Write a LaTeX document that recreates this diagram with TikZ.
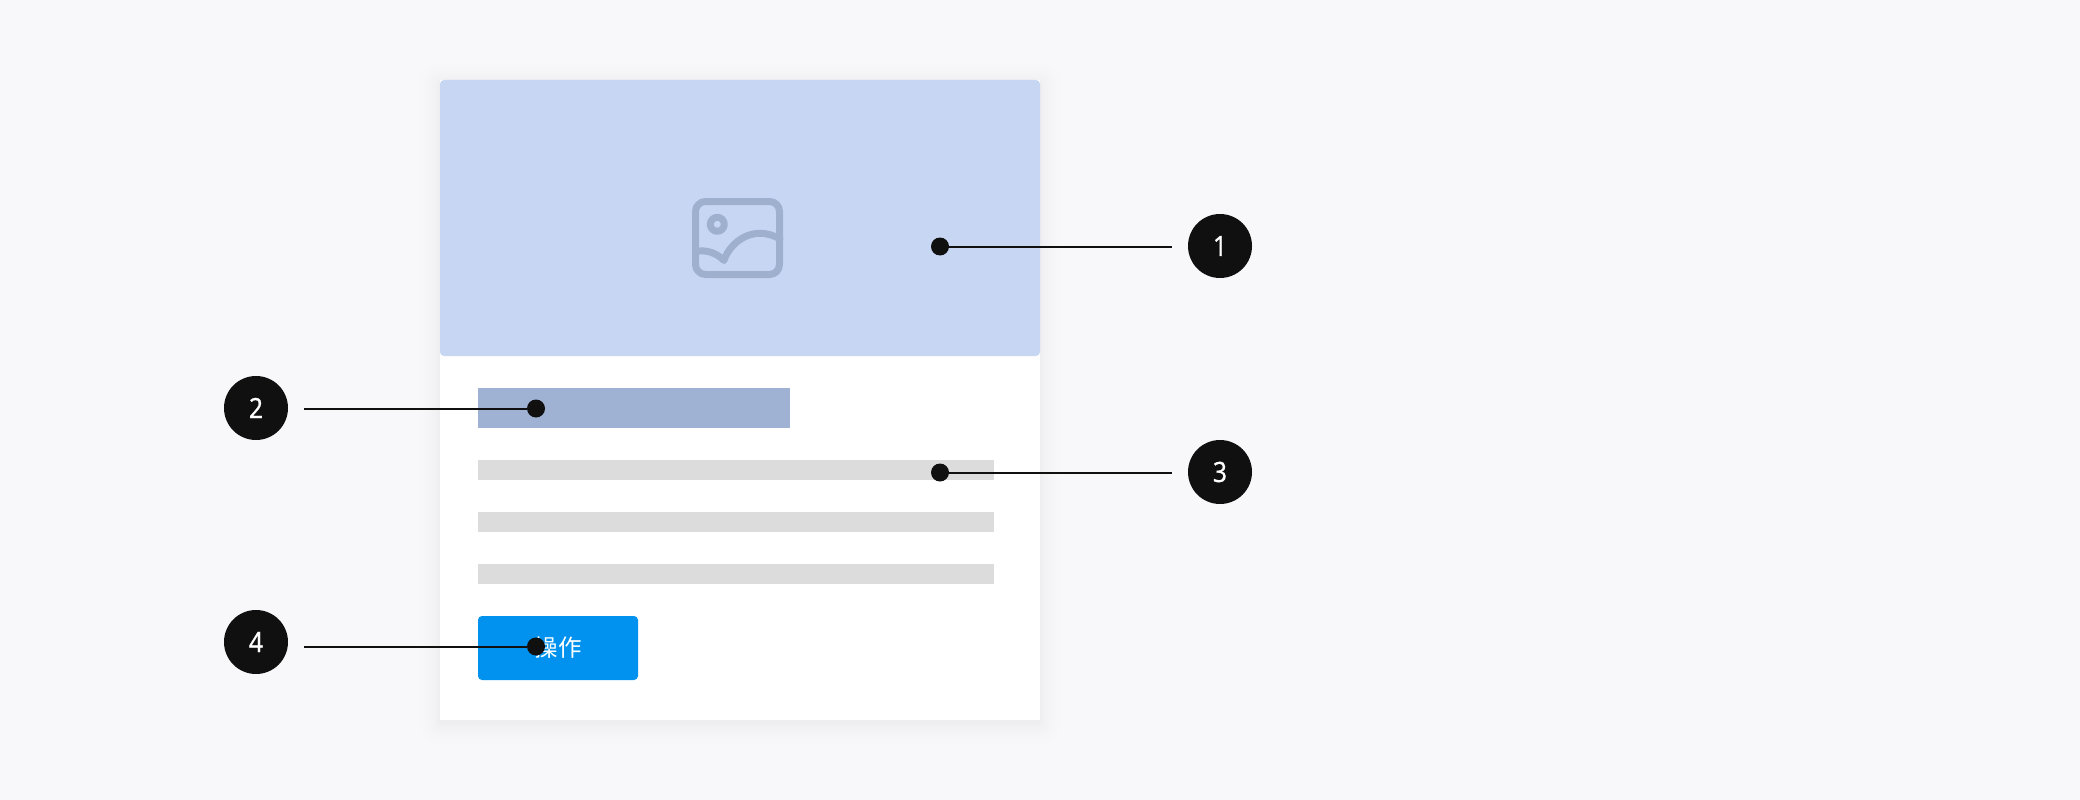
\documentclass[tikz,border=0pt]{standalone}
\usepackage{fontspec}
\setmainfont{Noto Sans}[FakeStretch=0.88,FakeBold=0.6]
\newfontfamily\cjkfont{Noto Sans CJK SC}
\definecolor{pagebg}{HTML}{F8F8FA}
\definecolor{headerblue}{HTML}{C7D6F3}
\definecolor{iconblue}{HTML}{9FB0CF}
\definecolor{barblue}{HTML}{9FB2D3}
\definecolor{linegrey}{HTML}{DCDCDC}
\definecolor{btnblue}{HTML}{0092EE}
\definecolor{inkdark}{HTML}{101010}
\tikzset{
  x=1pt,y=-1pt,
  block/.style={inner sep=0pt,outer sep=0pt,anchor=north west,draw=none},
  textline/.style={block,fill=linegrey,minimum width=516pt,minimum height=20pt},
  badge/.style={circle,fill=inkdark,text=white,minimum size=64pt,inner sep=0pt,outer sep=0pt,font=\fontsize{28}{28}\selectfont},
  pin/.style={circle,fill=inkdark,minimum size=18pt,inner sep=0pt,outer sep=0pt},
  leader/.style={draw=inkdark,line width=2pt},
  iconline/.style={draw=iconblue,line width=7pt,line cap=round,line join=round},
}
\begin{document}
\begin{tikzpicture}
\fill[pagebg] (0,0) rectangle (2080,800);
\useasboundingbox (0,0) rectangle (2080,800);
% card shadow
\foreach \s in {1,2,3,4,6,8,10,13,16,20}{
  \fill[black,opacity=0.005,rounded corners=\s pt] (440-\s,80-\s+3) rectangle (1040+\s,720+\s+3);
}
\node[block,fill=white,minimum width=600pt,minimum height=640pt] (card) at (440,80) {};
\node[block,fill=headerblue,minimum width=600pt,minimum height=276pt,rounded corners=4pt] (header) at (440,80) {};
% image icon
\draw[iconline,rounded corners=10pt] (695.5,201.5) rectangle (779.5,274.5);
\draw[iconline] (717.3,224.3) circle[radius=7];
\draw[iconline] (696,251.5) .. controls (706,249.5) and (716,252.5) .. (724,260.5) .. controls (729,244) and (752,223) .. (780,239);
% body
\node[block,fill=barblue,minimum width=312pt,minimum height=40pt] (title) at (478,388) {};
\node[textline] (l1) at (478,460) {};
\node[textline] (l2) at (478,512) {};
\node[textline] (l3) at (478,564) {};
\node[block,fill=btnblue,minimum width=160pt,minimum height=64pt,rounded corners=4pt] (button) at (478,616) {};
\node[text=white,inner sep=0pt,font=\cjkfont\fontsize{23.5}{23.5}\selectfont] (btnlabel) at (558,647.5) {操作};
% badges and pins
\node[badge] (b1) at (1220,246) {1};
\node[badge] (b2) at (256,408) {2};
\node[badge] (b3) at (1220,472) {3};
\node[badge] (b4) at (256,642) {4};
\node[pin] (p1) at (940,246.5) {};
\node[pin] (p2) at (536,408.5) {};
\node[pin] (p3) at (940,472.5) {};
\node[pin] (p4) at (536,646.5) {};
\coordinate (e1) at (1172,246.5);
\coordinate (e2) at (304,408.5);
\coordinate (e3) at (1172,472.5);
\coordinate (e4) at (304,646.5);
\draw[leader] (p1) -- (e1);
\draw[leader] (p2) -- (e2);
\draw[leader] (p3) -- (e3);
\draw[leader] (p4) -- (e4);
\end{tikzpicture}
\end{document}
